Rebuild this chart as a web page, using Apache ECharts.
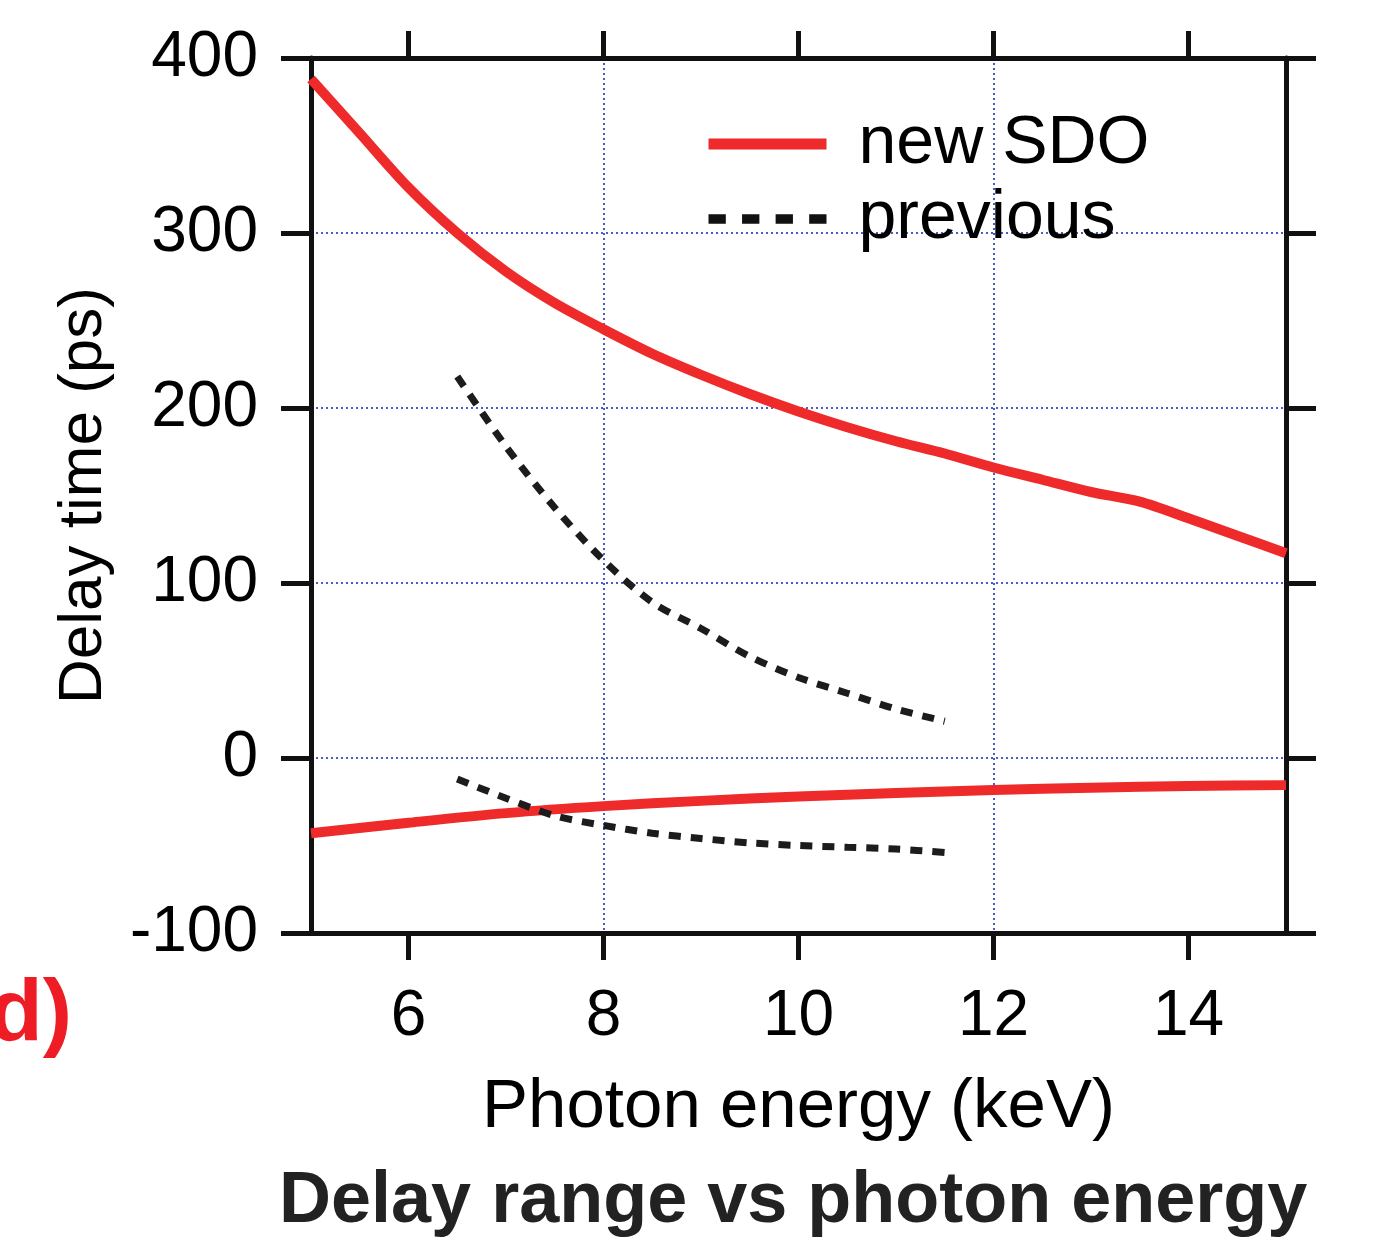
<!DOCTYPE html>
<html>
<head>
<meta charset="utf-8">
<script src="https://cdn.jsdelivr.net/npm/echarts@6/dist/echarts.min.js"></script>
<style>
html,body{margin:0;padding:0;background:#fff;}
#chart{width:1376px;height:1239px;}
</style>
</head>
<body>
<div id="chart"></div>
<script>
// ---- data ----
const energyUpper = [5, 5.5, 6, 6.5, 7, 7.5, 8, 8.5, 9, 9.5, 10, 10.5, 11, 11.5, 12, 12.5, 13, 13.5, 14, 14.5, 15];
const sdoUpper    = [388, 357, 326, 300, 278, 260, 245, 231, 219, 208, 198, 189, 181, 174, 166, 159, 152, 146.5, 137, 127, 117];
const energyLower = [5, 6, 7, 8, 9, 10, 11, 12, 13, 14, 15];
const sdoLower    = [-43, -37, -31.5, -27.5, -24.5, -22, -20, -18.3, -17, -16, -15.5];
const energyPrev  = [6.5, 7, 7.5, 8, 8.5, 9, 9.5, 10, 10.5, 11, 11.5];
const prevUpper   = [218, 178, 143, 113, 89, 74, 58, 46, 37, 28, 21];
const prevLower   = [-12, -23, -33, -38.5, -43, -46, -48.5, -50, -51, -52, -54];
const xTicks = [6, 8, 10, 12, 14];
const seriesNames = ['new SDO', 'previous'];
const xName = 'Photon energy (keV)';
const yName = 'Delay time (ps)';
const chartTitle = 'Delay range vs photon energy';
const panelLabel = 'd)';

const pairs = (xs, ys) => xs.map((x, i) => [x, ys[i]]);
const FONT = "'Liberation Sans', Arial, Helvetica, sans-serif";
const RED = '#ee2a2a';
const BLACK = '#1c1c1c';
const AX = '#111111';
const GRID = '#4a5cc8';

const axisLine = { show: true, onZero: false, lineStyle: { color: AX, width: 5 } };
const gridLineX = { show: true, interval: 0, lineStyle: { color: ['rgba(0,0,0,0)', GRID], width: 2, type: [2, 3] } };
const gridLineY = { show: true, lineStyle: { color: GRID, width: 2, type: [2, 3] } };

const chart = echarts.init(document.getElementById('chart'), null, { renderer: 'canvas' });
chart.setOption({
  backgroundColor: '#ffffff',
  animation: false,
  title: {
    text: chartTitle,
    left: 274, top: 1161,
    textStyle: { fontFamily: FONT, fontSize: 72, fontWeight: 'bold', color: '#222222' }
  },
  grid: { left: 311, right: 90, top: 58, bottom: 306, containLabel: false },
  legend: {
    orient: 'vertical',
    left: 698, top: 105,
    itemWidth: 118, itemHeight: 11,
    itemGap: 7,
    data: [
      { name: seriesNames[0], lineStyle: { width: 11, color: RED } },
      { name: seriesNames[1], icon: 'path://M0,0h16v9h-16z M31,0h16v9h-16z M62,0h16v9h-16z M93,0h16v9h-16z',
        itemStyle: { color: '#111111', borderWidth: 0 } }
    ],
    textStyle: { fontFamily: FONT, fontSize: 68, color: '#000', lineHeight: 66, padding: [0, 0, 0, 27] }
  },
  xAxis: [
    {
      type: 'value', position: 'bottom', min: 5, max: 15, interval: 1,
      axisLine: axisLine,
      axisTick: { show: true, inside: false, length: 27, customValues: xTicks, lineStyle: { color: AX, width: 5 } },
      axisLabel: { show: true, customValues: xTicks, margin: 52, fontFamily: FONT, fontSize: 64, color: '#000' },
      splitLine: gridLineX,
      name: xName, nameLocation: 'middle', nameGap: 140,
      nameTextStyle: { fontFamily: FONT, fontSize: 69, color: '#000' }
    },
    {
      type: 'value', position: 'top', min: 5, max: 15, interval: 1,
      axisLine: axisLine,
      axisTick: { show: true, inside: false, length: 27, customValues: xTicks, lineStyle: { color: AX, width: 5 } },
      axisLabel: { show: false },
      splitLine: { show: false }
    }
  ],
  yAxis: [
    {
      type: 'value', position: 'left', min: -100, max: 400, interval: 100,
      axisLine: axisLine,
      axisTick: { show: true, inside: false, length: 30, lineStyle: { color: AX, width: 5 } },
      axisLabel: { show: true, margin: 53, fontFamily: FONT, fontSize: 64, color: '#000' },
      splitLine: gridLineY,
      name: yName, nameLocation: 'middle', nameGap: 196, nameRotate: 90,
      nameTextStyle: { fontFamily: FONT, fontSize: 62, color: '#000' }
    },
    {
      type: 'value', position: 'right', min: -100, max: 400, interval: 100,
      axisLine: axisLine,
      axisTick: { show: true, inside: false, length: 30, lineStyle: { color: AX, width: 5 } },
      axisLabel: { show: false },
      splitLine: { show: false }
    }
  ],
  series: [
    {
      name: seriesNames[0], type: 'line', xAxisIndex: 0, yAxisIndex: 0,
      data: pairs(energyUpper, sdoUpper), smooth: 0.3, symbol: 'none',
      lineStyle: { color: RED, width: 10 }, itemStyle: { color: RED }, z: 5
    },
    {
      name: seriesNames[0], type: 'line', xAxisIndex: 0, yAxisIndex: 0,
      data: pairs(energyLower, sdoLower), smooth: 0.3, symbol: 'none',
      lineStyle: { color: RED, width: 10 }, itemStyle: { color: RED }, z: 5
    },
    {
      name: seriesNames[1], type: 'line', xAxisIndex: 0, yAxisIndex: 0,
      data: pairs(energyPrev, prevUpper), smooth: 0.3, symbol: 'none',
      lineStyle: { color: BLACK, width: 7, type: [12, 10] }, itemStyle: { color: BLACK }, z: 6
    },
    {
      name: seriesNames[1], type: 'line', xAxisIndex: 0, yAxisIndex: 0,
      data: pairs(energyPrev, prevLower), smooth: 0.3, symbol: 'none',
      lineStyle: { color: BLACK, width: 7, type: [12, 10] }, itemStyle: { color: BLACK }, z: 6
    }
  ],
  graphic: [
    {
      type: 'text', left: -11, top: 972, silent: true,
      style: { text: panelLabel, fontFamily: FONT, fontSize: 88, fontWeight: 'bold', fill: '#ee1c25' }
    }
  ]
});
</script>
</body>
</html>
